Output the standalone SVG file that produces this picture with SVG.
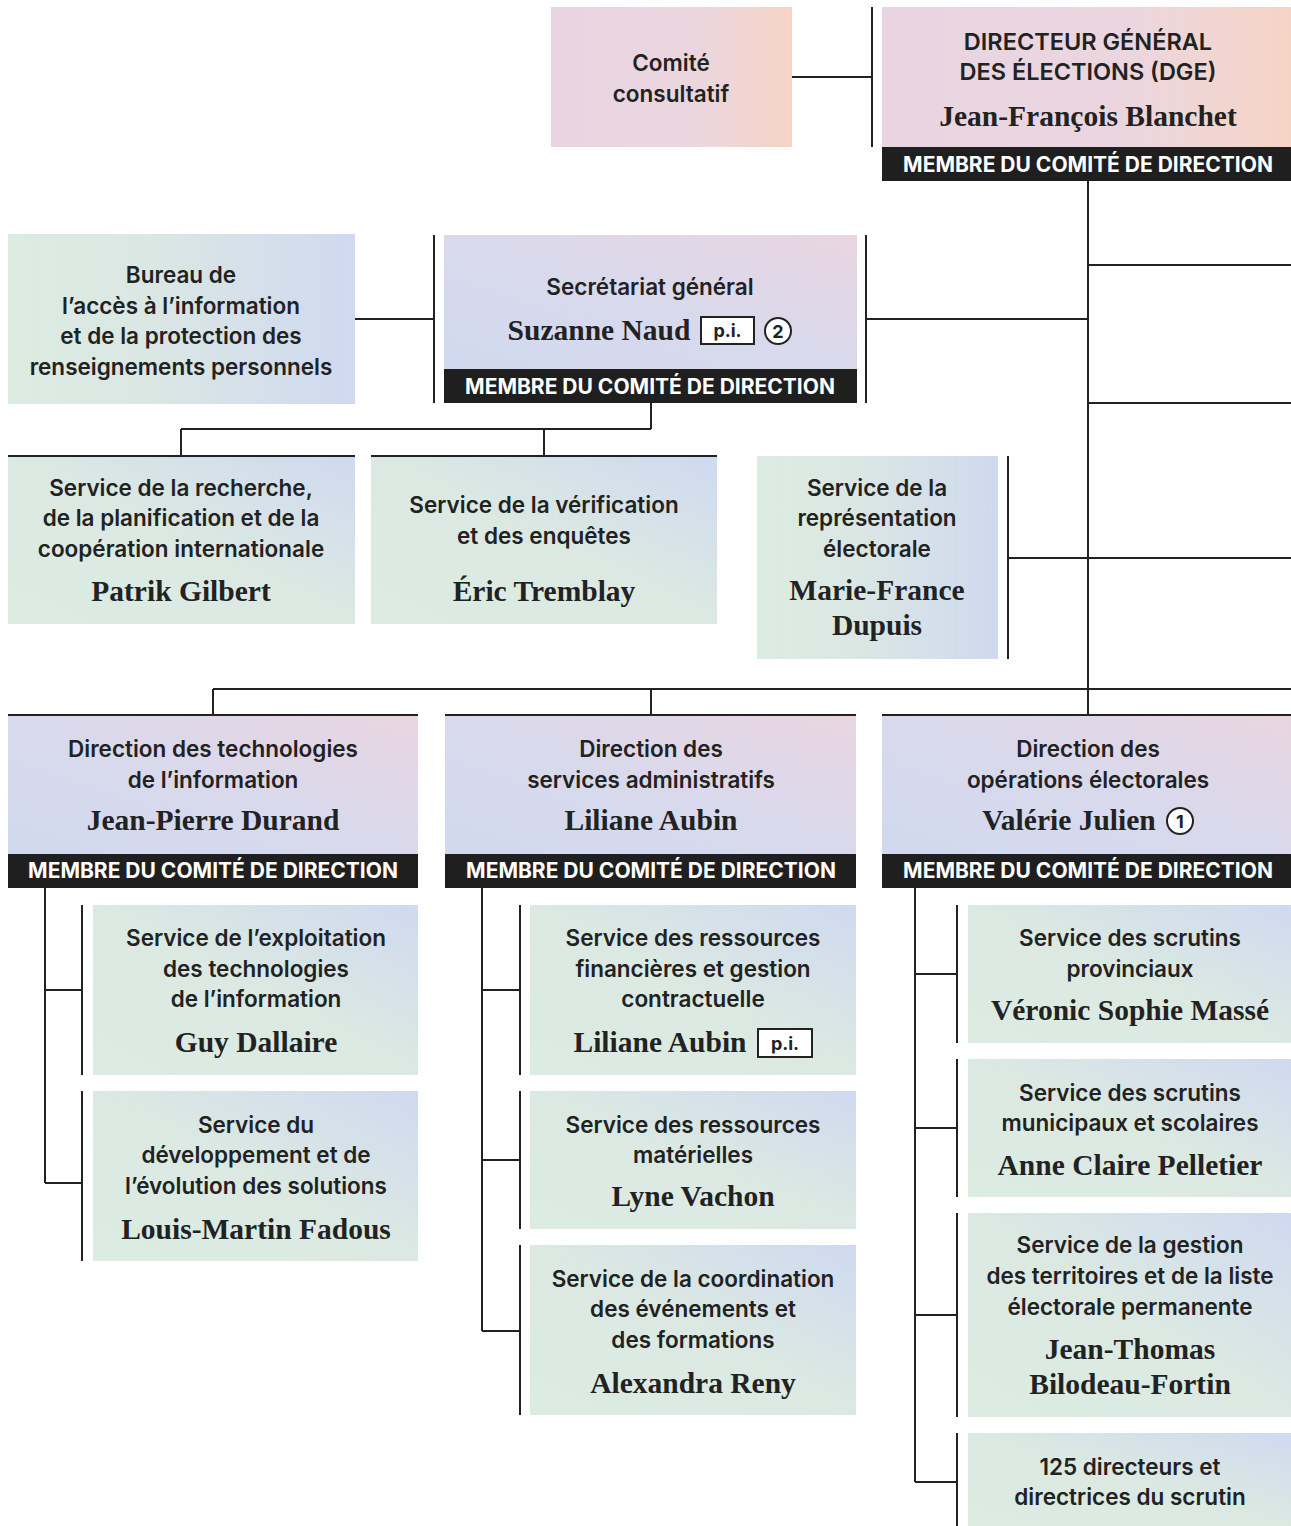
<svg xmlns="http://www.w3.org/2000/svg" width="1291" height="1526" viewBox="0 0 1291 1526">
<defs>
<linearGradient id="gPeach" x1="0" y1="0" x2="1" y2="0">
<stop offset="0" stop-color="#e8d5e1"/><stop offset="0.6" stop-color="#ebd6df"/><stop offset="1" stop-color="#f6d4c5"/>
</linearGradient>
<linearGradient id="gLav" x1="0" y1="1" x2="1" y2="0">
<stop offset="0" stop-color="#d0d9ef"/><stop offset="0.5" stop-color="#d9d9ec"/><stop offset="1" stop-color="#e9d5e1"/>
</linearGradient>
<linearGradient id="gGreen" x1="0" y1="1" x2="1" y2="0">
<stop offset="0" stop-color="#dcece2"/><stop offset="0.5" stop-color="#dbe9e2"/><stop offset="1" stop-color="#cfd9f0"/>
</linearGradient>
<linearGradient id="gGreenH" x1="0" y1="0" x2="1" y2="0">
<stop offset="0" stop-color="#dcece2"/><stop offset="0.4" stop-color="#dae7e3"/><stop offset="1" stop-color="#cfd9f0"/>
</linearGradient>
<style>
.t{font-family:Inter,Lato,"Noto Sans","Liberation Sans",sans-serif;font-size:22.5px;font-weight:600;fill:#222;text-anchor:middle}
.cap{font-size:23.5px}
.n{font-family:"Liberation Serif",serif;font-size:29.5px;font-weight:700;fill:#222;text-anchor:middle}
.b{font-family:Inter,Lato,"Noto Sans","Liberation Sans",sans-serif;font-size:21px;font-weight:700;fill:#fff;text-anchor:middle}
.band{fill:#1f1f1f}
.pk{fill:url(#gPeach)}
.lv{fill:url(#gLav)}
.gr{fill:url(#gGreen)}
.gh{fill:url(#gGreenH)}
.ln{stroke:#222;stroke-width:2;fill:none}
.pib{fill:#fff;stroke:#222;stroke-width:2}
.pit{font-family:Inter,Lato,"Noto Sans","Liberation Sans",sans-serif;font-size:18px;font-weight:700;fill:#222;text-anchor:middle}
.cir{fill:#fff;stroke:#222;stroke-width:2}
</style>
</defs>
<rect width="1291" height="1526" fill="#fff"/>

<g id="connectors" class="ln">
<path d="M792 77H872M872 7V147"/>
<path d="M1088 181V715"/>
<path d="M1088 265H1291M1088 403H1291M866 319H1088M866 235V403"/>
<path d="M355 319H434M434 235V403"/>
<path d="M651 403V429M181 429H651M181 429V456M544 429V456"/>
<path d="M8 456H355M371 456H717"/>
<path d="M1008 456V659M1008 558H1291"/>
<path d="M213 689H1291M213 689V715M651 689V715"/>
<path d="M8 715H418M445 715H856M882 715H1291"/>
<path d="M45 888V1183M45 990H82M45 1183H82M82 905V1075M82 1091V1261"/>
<path d="M482 888V1331M482 990H520M482 1160H520M482 1331H520M520 905V1075M520 1091V1229M520 1245V1415"/>
<path d="M915 888V1482M915 974H957M915 1128H957M915 1315H957M915 1482H957M957 905V1043M957 1059V1197M957 1213V1417M957 1433V1526"/>
</g>

<g id="comite">
<rect class="pk" x="551" y="7" width="241" height="140"/>
<text class="t" x="671" y="71">Comité</text>
<text class="t" x="671" y="102">consultatif</text>
</g>

<g id="dge">
<rect class="pk" x="882" y="7" width="409" height="140"/>
<rect class="band" x="882" y="147" width="409" height="34"/>
<text class="t cap" x="1088" y="50">DIRECTEUR GÉNÉRAL</text>
<text class="t cap" x="1088" y="80">DES ÉLECTIONS (DGE)</text>
<text class="n" x="1088" y="126">Jean-François Blanchet</text>
<text class="b" x="1088" y="172">MEMBRE DU COMITÉ DE DIRECTION</text>
</g>

<g id="bureau">
<rect class="gh" x="8" y="234" width="347" height="170"/>
<text class="t" x="181" y="283">Bureau de</text>
<text class="t" x="181" y="314">l’accès à l’information</text>
<text class="t" x="181" y="344">et de la protection des</text>
<text class="t" x="181" y="375">renseignements personnels</text>
</g>

<g id="secretariat">
<rect class="lv" x="444" y="235" width="413" height="134"/>
<rect class="band" x="444" y="369" width="413" height="34"/>
<text class="t" x="650" y="295">Secrétariat général</text>
<text class="n" x="599" y="340">Suzanne Naud</text>
<rect class="pib" x="701" y="317" width="53" height="27"/>
<text class="pit" x="727.500" y="337">p.i.</text>
<circle class="cir" cx="778" cy="331" r="13"/>
<text class="pit" x="778" y="337.500">2</text>
<text class="b" x="650" y="394">MEMBRE DU COMITÉ DE DIRECTION</text>
</g>

<g id="recherche">
<rect class="gr" x="8" y="457" width="347" height="167"/>
<text class="t" x="181" y="496">Service de la recherche,</text>
<text class="t" x="181" y="526">de la planification et de la</text>
<text class="t" x="181" y="557">coopération internationale</text>
<text class="n" x="181" y="601">Patrik Gilbert</text>
</g>

<g id="verification">
<rect class="gr" x="371" y="457" width="346" height="167"/>
<text class="t" x="544" y="513">Service de la vérification</text>
<text class="t" x="544" y="544">et des enquêtes</text>
<text class="n" x="544" y="601">Éric Tremblay</text>
</g>

<g id="representation">
<rect class="gh" x="757" y="456" width="241" height="203"/>
<text class="t" x="877" y="496">Service de la</text>
<text class="t" x="877" y="526">représentation</text>
<text class="t" x="877" y="557">électorale</text>
<text class="n" x="877" y="600">Marie-France</text>
<text class="n" x="877" y="635">Dupuis</text>
</g>

<g id="dti">
<rect class="lv" x="8" y="716" width="410" height="138"/>
<rect class="band" x="8" y="854" width="410" height="34"/>
<text class="t" x="213" y="757">Direction des technologies</text>
<text class="t" x="213" y="788">de l’information</text>
<text class="n" x="213" y="830">Jean-Pierre Durand</text>
<text class="b" x="213" y="878">MEMBRE DU COMITÉ DE DIRECTION</text>
</g>

<g id="dsa">
<rect class="lv" x="445" y="716" width="411" height="138"/>
<rect class="band" x="445" y="854" width="411" height="34"/>
<text class="t" x="651" y="757">Direction des</text>
<text class="t" x="651" y="788">services administratifs</text>
<text class="n" x="651" y="830">Liliane Aubin</text>
<text class="b" x="651" y="878">MEMBRE DU COMITÉ DE DIRECTION</text>
</g>

<g id="doe">
<rect class="lv" x="882" y="716" width="409" height="138"/>
<rect class="band" x="882" y="854" width="409" height="34"/>
<text class="t" x="1088" y="757">Direction des</text>
<text class="t" x="1088" y="788">opérations électorales</text>
<text class="n" x="1069" y="830">Valérie Julien</text>
<circle class="cir" cx="1180" cy="821" r="13"/>
<text class="pit" x="1180" y="827.500">1</text>
<text class="b" x="1088" y="878">MEMBRE DU COMITÉ DE DIRECTION</text>
</g>

<g id="exploitation">
<rect class="gr" x="93" y="905" width="325" height="170"/>
<text class="t" x="256" y="946">Service de l’exploitation</text>
<text class="t" x="256" y="977">des technologies</text>
<text class="t" x="256" y="1007">de l’information</text>
<text class="n" x="256" y="1052">Guy Dallaire</text>
</g>

<g id="developpement">
<rect class="gr" x="93" y="1091" width="325" height="170"/>
<text class="t" x="256" y="1133">Service du</text>
<text class="t" x="256" y="1163">développement et de</text>
<text class="t" x="256" y="1194">l’évolution des solutions</text>
<text class="n" x="256" y="1239">Louis-Martin Fadous</text>
</g>

<g id="financieres">
<rect class="gr" x="530" y="905" width="326" height="170"/>
<text class="t" x="693" y="946">Service des ressources</text>
<text class="t" x="693" y="977">financières et gestion</text>
<text class="t" x="693" y="1007">contractuelle</text>
<text class="n" x="660" y="1052">Liliane Aubin</text>
<rect class="pib" x="758" y="1029" width="54" height="28"/>
<text class="pit" x="785" y="1049.500">p.i.</text>
</g>

<g id="materielles">
<rect class="gr" x="530" y="1091" width="326" height="138"/>
<text class="t" x="693" y="1133">Service des ressources</text>
<text class="t" x="693" y="1163">matérielles</text>
<text class="n" x="693" y="1206">Lyne Vachon</text>
</g>

<g id="coordination">
<rect class="gr" x="530" y="1245" width="326" height="170"/>
<text class="t" x="693" y="1287">Service de la coordination</text>
<text class="t" x="693" y="1317">des événements et</text>
<text class="t" x="693" y="1348">des formations</text>
<text class="n" x="693" y="1393">Alexandra Reny</text>
</g>

<g id="provinciaux">
<rect class="gr" x="968" y="905" width="323" height="138"/>
<text class="t" x="1130" y="946">Service des scrutins</text>
<text class="t" x="1130" y="977">provinciaux</text>
<text class="n" x="1130" y="1020">Véronic Sophie Massé</text>
</g>

<g id="municipaux">
<rect class="gr" x="968" y="1059" width="323" height="138"/>
<text class="t" x="1130" y="1101">Service des scrutins</text>
<text class="t" x="1130" y="1131">municipaux et scolaires</text>
<text class="n" x="1130" y="1175">Anne Claire Pelletier</text>
</g>

<g id="territoires">
<rect class="gr" x="968" y="1213" width="323" height="204"/>
<text class="t" x="1130" y="1253">Service de la gestion</text>
<text class="t" x="1130" y="1284">des territoires et de la liste</text>
<text class="t" x="1130" y="1315">électorale permanente</text>
<text class="n" x="1130" y="1359">Jean-Thomas</text>
<text class="n" x="1130" y="1394">Bilodeau-Fortin</text>
</g>

<g id="directeurs">
<rect class="gr" x="968" y="1433" width="323" height="93"/>
<text class="t" x="1130" y="1475">125 directeurs et</text>
<text class="t" x="1130" y="1505">directrices du scrutin</text>
</g>
</svg>
